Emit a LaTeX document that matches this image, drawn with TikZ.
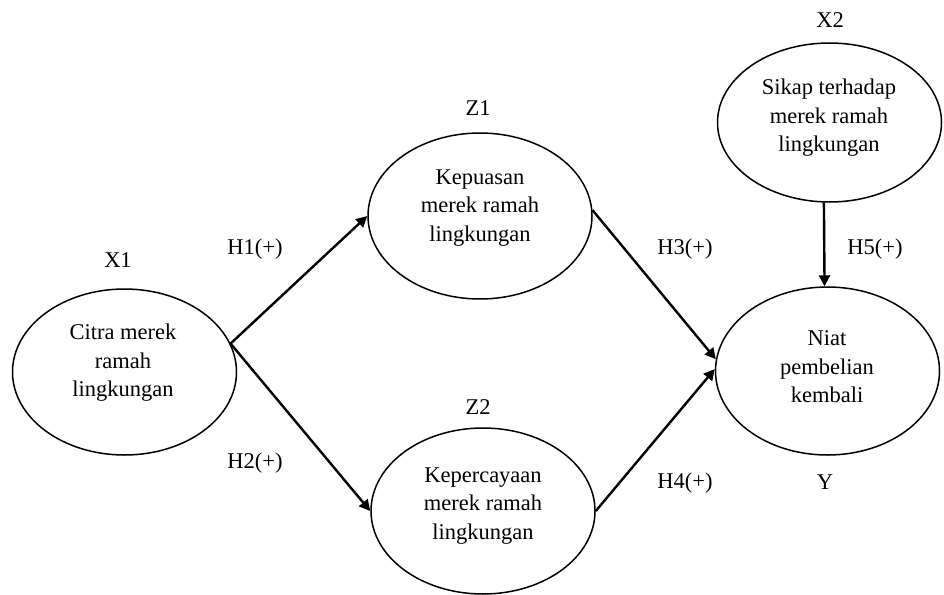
\documentclass[tikz,border=0pt]{standalone}
\usepackage{fontspec}
\setmainfont{Liberation Serif}
\usetikzlibrary{shapes.geometric,arrows.meta}
\begin{document}
\begin{tikzpicture}[x=1pt,y=-1pt,
  every node/.style={font=\fontsize{22.5pt}{28.5pt}\selectfont, inner sep=0pt},
  latent/.style={ellipse, draw, line width=1.5pt, minimum width=224pt, minimum height=166pt},
  inner/.style={align=center},
  arr/.style={line width=2.4pt, -{Triangle[length=11pt,width=11pt]}}
]
\useasboundingbox (0,0) rectangle (944,594);
% ellipses
\node[latent] (x1) at (124.5,372) {};
\node[latent] (z1) at (480,216) {};
\node[latent] (z2) at (483,511) {};
\node[latent, minimum height=159pt] (x2) at (829.5,122.5) {};
\node[latent, minimum height=168pt] (y) at (827.5,371) {};
% texts inside
\node[inner] (tx1) at (123,363) {Citra merek\\ramah\\lingkungan};
\node[inner] (tz1) at (480,208) {Kepuasan\\merek ramah\\lingkungan};
\node[inner] (tz2) at (483,506) {Kepercayaan\\merek ramah\\lingkungan};
\node[inner] (tx2) at (829,118) {Sikap terhadap\\merek ramah\\lingkungan};
\node[inner] (ty) at (827,367) {Niat\\pembelian\\kembali};
% variable labels
\node (lx1) at (118,260) {X1};
\node (lz1) at (478,108) {Z1};
\node (lz2) at (478,407) {Z2};
\node (lx2) at (830,20) {X2};
\node (ly) at (825,482) {Y};
% hypothesis labels
\node (h1) at (255,249) {H1(+)};
\node (h2) at (255,463) {H2(+)};
\node (h3) at (685,249) {H3(+)};
\node (h4) at (685,483) {H4(+)};
\node (h5) at (875,249) {H5(+)};
% arrows
\draw[arr] (x1.15.5) -- (z1.west);
\draw[arr] (x1.15.5) -- (z2.west);
\draw[arr] (z1.3) -- (y.174);
\draw[arr] (z2.east) -- (y.179);
\draw[arr] (x2.266) -- (y.92.4);
\end{tikzpicture}
\end{document}
